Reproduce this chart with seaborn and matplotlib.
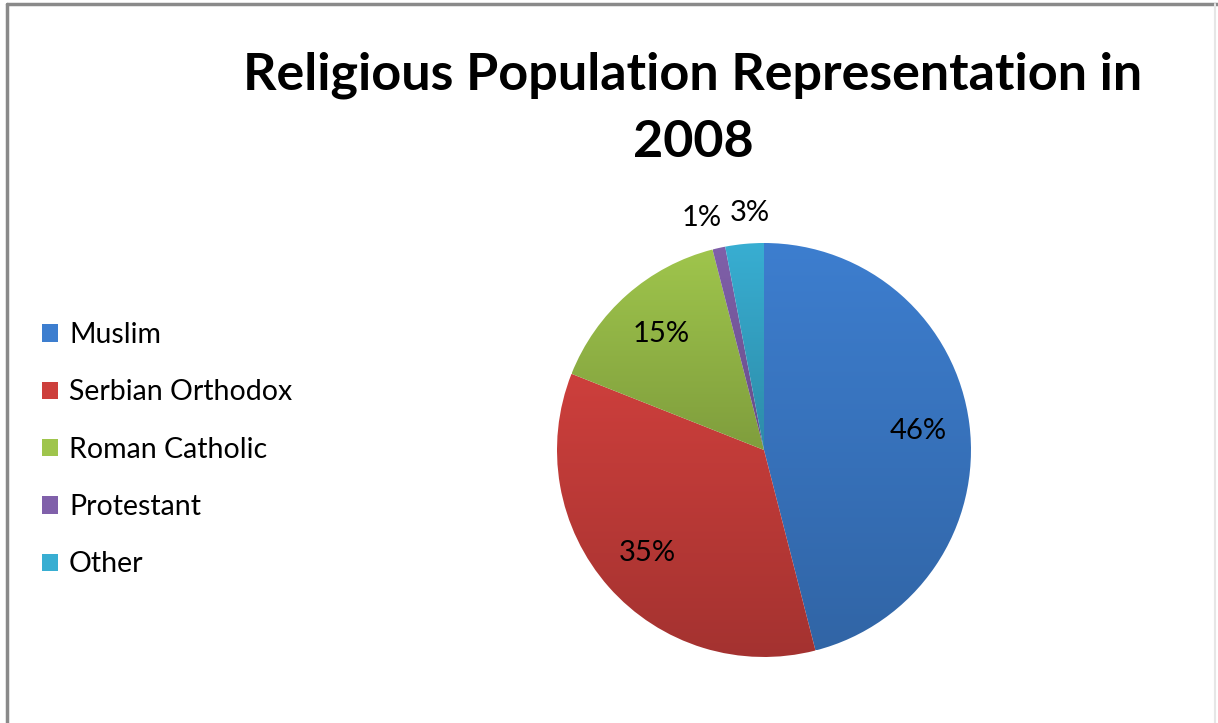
import numpy as np
import seaborn as sns
import matplotlib.pyplot as plt
import matplotlib.colors as mcolors
from matplotlib.patches import Patch
from matplotlib.lines import Line2D

# Data
religions = ["Muslim", "Serbian Orthodox", "Roman Catholic", "Protestant", "Other"]
shares = [46, 35, 15, 1, 3]
colors = ["#3D7ECF", "#CD3F3C", "#9FC54C", "#8060AA", "#38AED2"]
title = "Religious Population Representation in\n2008"

sns.set_theme(style="white")
plt.rcParams["font.family"] = ["Lato", "DejaVu Sans"]
plt.rcParams["text.color"] = "black"

fig = plt.figure(figsize=(12.18, 7.23), dpi=100)
ax = fig.add_axes([0.4573, 0.0913, 0.3399, 0.5726])

wedges, texts, autotexts = ax.pie(
    shares, colors=colors, startangle=90, counterclock=False,
    autopct="%1.0f%%", pctdistance=0.75,
    wedgeprops=dict(linewidth=1.2, edgecolor="white"),
    textprops=dict(fontsize=21, color="black"),
)

# Excel-like light-to-dark gradient in each slice
for w, c in zip(wedges, colors):
    ext = w.get_path().get_extents(w.get_patch_transform())
    base = np.array(mcolors.to_rgb(c))
    t = np.linspace(0, 1, 256)[:, None]
    grad = base[None, :] * (1 - 0.2 * t)
    img = np.repeat(grad[:, None, :], 2, axis=1)
    im = ax.imshow(img, extent=[ext.x0, ext.x1, ext.y0, ext.y1],
                   origin="upper", aspect="auto", zorder=w.get_zorder() + 0.1)
    im.set_clip_path(w)
    w.set_facecolor("none")
ax.set_xlim(-1, 1)
ax.set_ylim(-1, 1)
ax.set_aspect("equal")

# small slices: label outside the pie, nudged apart
nudges = iter([-0.05, 0.04])
for w, txt, s in zip(wedges, autotexts, shares):
    txt.set_zorder(5)
    if s < 5:
        ang = np.deg2rad((w.theta1 + w.theta2) / 2)
        txt.set_position((1.16 * np.cos(ang) + next(nudges), 1.15 * np.sin(ang)))
        txt.set_clip_on(False)

handles = [Patch(facecolor=c, edgecolor="none") for c in colors]
fig.legend(handles, religions, loc="center left", bbox_to_anchor=(0.0345, 0.378),
           frameon=False, fontsize=20.5, handlelength=0.55, handleheight=0.55,
           handletextpad=0.4, labelspacing=1.1, borderpad=0, borderaxespad=0)

fig.text(0.569, 0.849, title, ha="center", va="center", fontsize=37.5,
         fontweight="bold", linespacing=1.53)

# chart border (dark left/top, faint right)
fig.add_artist(Line2D([0.0057, 0.0057], [0, 0.9945], transform=fig.transFigure,
                      color="#8A8A8A", linewidth=2.5))
fig.add_artist(Line2D([0.0057, 1.0], [0.9945, 0.9945], transform=fig.transFigure,
                      color="#8A8A8A", linewidth=2.5))
fig.add_artist(Line2D([0.9975, 0.9975], [0, 0.9945], transform=fig.transFigure,
                      color="#E6E6E6", linewidth=1.5))

fig.savefig("out.png", dpi=100, facecolor="white")
